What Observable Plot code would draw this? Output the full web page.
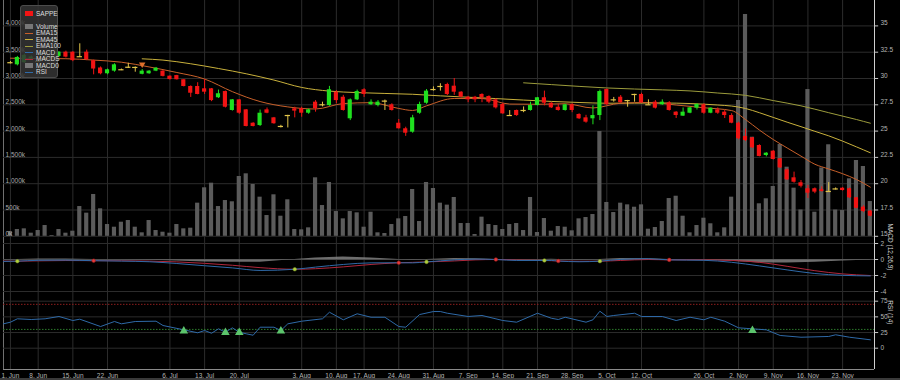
<!DOCTYPE html>
<html><head><meta charset="utf-8">
<script src="https://cdn.jsdelivr.net/npm/d3@7"></script>
<script src="https://cdn.jsdelivr.net/npm/@observablehq/plot@0.6"></script>
<style>
html,body{margin:0;padding:0;background:#000;}
#chart{position:relative;width:900px;height:380px;background:#000;overflow:hidden;font-family:"Liberation Sans",Arial,sans-serif;}
#chart svg{position:absolute;left:0;top:0;}
.legend{position:absolute;left:20px;top:5px;width:38px;height:73px;background:rgba(52,52,52,0.86);border:1px solid #4c4c4c;border-radius:3px;box-sizing:border-box;}
.li{position:absolute;left:15px;font-size:6.5px;color:#dedede;line-height:7px;white-space:nowrap;}
.ic{position:absolute;left:4px;width:8px;}
.strip{position:absolute;left:0;top:378px;width:900px;height:2px;background:#3a3a3a;}
</style></head><body><div id="chart"></div>
<script>
// ---- candles (SAPPE) ----
const open  = [31.5,31.3,31.5,31.85,31.62,31.9,32.05,32.1,32.5,32.5,32.07,32.5,31.7,31.0,30.45,30.7,30.83,31.07,31.05,30.4,30.45,30.7,30.7,30.22,30.28,29.88,29.24,29.24,29.02,29.02,28.17,28.76,26.96,27.97,27.02,25.75,25.53,27.02,26.26,25.44,26.48,27.12,27.12,26.7,27.75,27.5,27.43,28.7,28.22,26.17,27.97,28.93,27.5,27.43,27.85,27.5,25.75,25.22,24.9,26.7,27.65,28.95,29.24,29.43,29.27,28.7,28.22,28.22,28.48,28.29,27.97,27.53,26.48,26.96,26.96,26.96,27.43,28.17,27.65,27.27,26.96,27.5,26.58,26.26,26.17,26.48,28.95,27.97,28.22,27.9,28.48,28.48,27.5,27.75,27.5,27.69,26.8,26.42,26.7,27.18,27.5,26.7,27.02,26.8,26.48,25.75,24.49,24.36,23.63,22.68,23.09,22.37,21.32,20.56,20.09,19.52,19.52,19.42,19.26,19.5,19.57,19.52,18.66,17.77,17.39];
const high  = [31.62,32.1,32.3,32.15,31.72,32.15,32.15,32.55,32.6,32.55,33.3,32.7,31.75,31.1,30.9,31.4,30.9,31.45,31.1,30.85,30.75,31.05,30.75,30.25,30.3,29.9,29.3,29.6,29.9,29.05,28.9,28.8,28.0,28.0,27.05,25.8,27.0,27.2,26.3,25.55,26.5,27.27,27.27,27.1,27.9,27.75,29.25,28.85,28.4,28.06,28.9,29.03,27.97,27.9,27.95,27.6,26.1,25.37,26.5,27.75,28.95,29.2,29.5,29.55,30.0,28.75,28.3,28.3,28.55,28.35,28.05,27.65,26.95,27.0,27.3,27.75,28.2,28.8,27.7,27.55,27.55,27.6,26.65,26.5,27.4,28.9,29.0,28.2,28.38,27.92,28.5,28.6,27.97,27.9,27.97,27.8,26.85,27.2,27.25,27.6,27.6,27.2,27.2,26.95,26.65,25.85,25.2,24.4,23.7,22.95,23.15,22.4,21.4,21.1,20.3,19.84,19.6,19.7,20.1,19.6,19.62,19.58,18.7,17.9,17.45];
const low   = [31.38,31.2,31.45,31.75,31.52,31.85,31.95,32.05,31.95,31.6,32.0,31.7,30.35,30.35,30.35,30.6,30.75,30.95,30.6,30.35,30.4,30.65,30.15,29.85,29.85,29.2,28.2,28.45,28.48,27.8,28.1,27.2,26.9,26.6,25.4,25.4,25.44,26.65,25.65,25.3,25.3,26.26,26.32,26.6,26.8,27.3,27.35,27.6,26.9,26.0,27.9,28.2,27.45,27.3,26.96,26.9,25.2,24.5,24.8,26.6,27.55,28.8,28.8,28.38,28.4,28.15,27.7,27.7,27.7,27.6,27.1,26.6,26.45,26.4,26.75,26.9,27.4,27.4,27.15,26.9,26.9,26.75,26.1,25.75,25.6,26.0,27.45,27.75,27.65,27.27,27.75,27.65,27.48,27.1,27.45,26.9,26.2,26.4,26.65,27.0,26.6,26.65,26.6,26.2,25.7,24.17,24.0,23.35,22.55,22.55,22.25,21.45,20.3,20.05,19.6,18.6,19.05,19.2,19.2,19.4,19.3,18.6,17.6,17.25,16.85];
const close = [31.5,32.0,32.2,32.05,31.62,31.9,32.05,32.5,32.03,31.7,32.07,31.8,30.9,30.45,30.83,31.3,30.83,31.07,31.05,30.7,30.7,30.98,30.2,29.9,29.88,29.24,28.6,28.48,28.7,27.9,28.55,27.27,27.97,26.7,25.44,25.44,26.7,26.7,25.7,25.44,26.48,26.9,26.7,27.02,27.12,27.5,28.93,27.9,26.96,27.97,28.76,28.48,27.75,27.75,27.85,26.96,25.22,24.8,26.26,27.53,28.8,28.95,29.24,28.48,28.7,28.22,27.97,27.97,28.17,27.75,27.21,26.64,26.48,26.48,26.96,27.43,28.17,27.65,27.21,26.96,27.5,26.96,26.17,25.85,26.48,28.76,27.5,27.97,27.69,27.9,28.48,27.69,27.5,27.18,27.75,26.96,26.48,26.8,27.21,27.53,26.7,27.18,26.7,26.48,25.75,24.27,24.1,23.41,22.59,22.9,22.3,21.5,20.37,20.14,19.76,19.1,19.2,19.26,19.26,19.5,19.35,18.66,17.67,17.36,16.91];
// volume in thousands
const volume = [90,129,142,59,110,205,15,129,59,97,566,440,795,522,224,173,268,300,173,66,300,110,78,59,224,142,154,630,922,1010,566,680,656,1137,1188,985,744,395,789,382,694,129,123,161,1112,585,1023,471,332,471,446,173,458,66,53,224,332,376,890,281,1023,909,630,592,738,243,243,34,364,224,205,129,224,243,110,738,72,338,97,186,173,104,332,357,414,1992,643,452,630,598,553,598,135,167,281,718,762,382,66,205,344,238,66,161,744,2582,4217,1884,618,713,947,1745,1314,915,500,2790,458,1300,1740,500,490,1093,1441,1327,661];

// ---- moving averages (read at sample positions) ----
const ema15Idx = [0,4,8,12,16,20,24,28,32,36,40,44,48,52,56,58,60,64,68,72,76,80,84,88,92,96,100,104,106,108,110,112,114,116,118,120,122,124];
const ema15    = [31.93,31.9,31.88,31.75,31.55,31.1,30.57,29.95,28.75,27.81,27.3,27.1,27.62,27.7,27.15,26.96,27.4,28.1,28.1,27.57,27.55,27.6,27.2,27.65,27.72,27.48,27.22,26.95,26.1,25.1,24.2,23.4,22.62,21.85,21.4,20.95,20.4,19.67];
const ema45Idx = [19,22,26,30,34,38,42,46,50,54,58,62,66,70,74,78,82,86,90,94,98,102,104,106,108,110,112,114,116,118,120,122,124];
const ema45    = [31.87,31.75,31.4,30.95,30.45,29.85,29.15,28.8,28.66,28.58,28.5,28.35,28.22,28.09,27.95,27.82,27.72,27.65,27.66,27.67,27.62,27.48,27.38,27.15,26.75,26.3,25.85,25.42,24.98,24.55,24.05,23.5,22.94];
const ema100Idx = [74,78,82,86,90,94,98,102,106,110,114,118,122,124];
const ema100    = [29.59,29.42,29.25,29.1,29.0,28.92,28.82,28.62,28.4,27.9,27.4,26.75,26.1,25.75];
const flagIdx = [19];
const flagVal = [31.35];

// ---- MACD (12,26,9) ----
const macdIdx    = [-1,1,4,8,12,16,20,24,28,32,36,41,44,48,52,56,58,60,64,67,70,73,77,78,79,82,85,88,92,95,100,104,108,112,116,120,124];
const macdLine   = [-0.24,-0.21,-0.1,-0.08,-0.15,-0.2,-0.28,-0.5,-0.78,-1.05,-1.37,-1.22,-0.95,-0.62,-0.42,-0.41,-0.42,-0.3,-0.05,0.05,0,-0.12,-0.12,-0.12,-0.19,-0.28,-0.21,0.02,0.1,-0.05,-0.1,-0.35,-0.8,-1.3,-1.75,-1.98,-2.05];
const signalLine = [-0.2,-0.21,-0.17,-0.13,-0.15,-0.16,-0.2,-0.3,-0.48,-0.72,-1.02,-1.22,-1.15,-0.92,-0.62,-0.41,-0.36,-0.3,-0.18,-0.05,0,-0.06,-0.12,-0.15,-0.19,-0.22,-0.21,-0.12,0,-0.05,-0.05,-0.12,-0.35,-0.85,-1.4,-1.8,-2.0];
const histogram  = [-0.04,0,0.07,0.05,0,-0.04,-0.08,-0.2,-0.3,-0.33,-0.35,0,0.2,0.3,0.2,0,-0.06,0,0.13,0.1,0,-0.06,0,0.03,0,-0.06,0,0.14,0.1,0,-0.05,-0.23,-0.45,-0.45,-0.35,-0.18,-0.05];
const crossIdx  = [1,12,41,56,60,70,77,79,85,95];
const crossVal  = [-0.21,-0.15,-1.22,-0.41,-0.3,0,-0.12,-0.19,-0.21,-0.05];
const crossType = ["up","down","up","down","up","down","up","down","up","down"];

// ---- RSI (14) ----
const rsiIdx = [-1,0,1,3,5,7,9,10,13,15,16,18,21,22,25,27,28,29,30,31,32,33,34,35,36,38,39,40,42,45,46,48,50,52,54,56,57,59,61,62,63,66,68,71,73,76,78,79,80,83,84,85,86,87,90,91,94,96,98,100,101,103,105,107,109,111,114,118,119,121,124];
const rsiVal = [38.9,41.5,46.9,45.8,46.9,50.6,44.2,46.3,34.6,42.6,38.9,42.6,43.1,36.2,29.3,24.6,28.2,23.9,30.9,25.5,32.5,25.5,23,20.7,33.5,33.5,28.2,38.9,43.1,46.9,57.4,45.3,54.9,49.4,49.4,34.6,33.5,53.7,58.5,58.5,55.8,50.6,52.2,44.2,41.5,55.8,47.8,45.8,49.4,41.5,45.3,59,50.6,52.2,55.8,50.6,50.6,44.2,49.4,45.3,49.4,43.1,32.5,30.9,29.3,20.3,17.5,18.7,21.4,17.5,13.4];
const oversoldIdx = [25,31,33,39,107];
const oversoldVal = [27.3,25,25,27.3,28.2];

// ---- axes ----
const tickLabels = ["1. Jun","8. Jun","15. Jun","22. Jun","6. Jul","13. Jul","20. Jul","3. Aug","10. Aug","17. Aug","24. Aug","31. Aug","7. Sep","14. Sep","21. Sep","28. Sep","5. Oct","12. Oct","26. Oct","2. Nov","9. Nov","16. Nov","23. Nov"];
const tickIndex  = [0,4,9,14,23,28,33,42,47,51,56,61,66,71,76,81,86,91,100,105,110,115,120];
const priceTicks  = [15,17.5,20,22.5,25,27.5,30,32.5,35];
const volumeTicks = [0,500,1000,1500,2000,2500,3000,3500,4000];
const macdTicks   = [2,0,-2,-4];
const rsiTicks    = [75,50,25,0];

// ---- build ----
const candles = open.map((o, i) => ({i, o, h: high[i], l: low[i], c: close[i], v: volume[i]}));
const macdData = macdIdx.map((i, k) => ({i, m: macdLine[k], s: signalLine[k], h: histogram[k]}));
const crossData = crossIdx.map((i, k) => ({i, v: crossVal[k], t: crossType[k]}));
const rsiData = rsiIdx.map((i, k) => ({i, v: rsiVal[k]}));
const osData = oversoldIdx.map((i, k) => ({i, v: oversoldVal[k]}));
const line = (idx, vals) => idx.map((i, k) => ({i, v: vals[k]}));

const GREEN = "#1fe01f", RED = "#f21414", YEL = "#e2c54a";
const C15 = "#c8602a", C45 = "#c9b13c", C100 = "#9c9c3c";
const BLUE = "#2f6aa8", SIG = "#b0283c", GRID = "#2c2c2c", LBL = "#b4b4b4";
const XMAX = 124.6, BW = 0.3;
const FONT = "'Liberation Sans', Arial, sans-serif";

function layer(y, marks) {
  return Plot.plot({
    width: 900, height: 380, marginLeft: 3, marginRight: 26, marginTop: 0, marginBottom: 11,
    x: {domain: [-1, XMAX], axis: null},
    y: {...y, axis: null},
    style: {background: "transparent", fontFamily: FONT, overflow: "visible"},
    marks
  });
}
const rightLabels = (ticks, fmt, dy) => [
  Plot.ruleY(ticks, {x1: XMAX, x2: XMAX + 0.6, stroke: "#c8c8c8"}),
  Plot.text(ticks, {y: d => d, text: fmt, frameAnchor: "right", dx: 6, dy, textAnchor: "start", fill: LBL, fontSize: 6.5})
];

const chart = document.getElementById("chart");

// base: vertical grid, frame, x labels, panel titles
chart.appendChild(layer({domain: [0, 380], range: [0, 380]}, [
  Plot.ruleX(tickIndex, {y1: 0, y2: 369, stroke: GRID}),
  Plot.ruleX([-1], {y1: 0, y2: 369, stroke: "#707070"}),
  Plot.ruleX([XMAX], {y1: 0, y2: 369, stroke: "#cfcfcf"}),
  Plot.ruleY([369], {stroke: "#8a8a8a"}),
  Plot.text(tickIndex, {x: d => d, y: () => 375, text: (d, k) => tickLabels[k], fill: LBL, fontSize: 6.5}),
  Plot.text(["MACD (12,26,9)"], {frameAnchor: "right", dx: 16, y: () => 270, rotate: 90, fill: "#cfcfcf", fontSize: 6.5}),
  Plot.text(["RSI (14)"], {frameAnchor: "right", dx: 16, y: () => 324, rotate: 90, fill: "#cfcfcf", fontSize: 6.5})
]));

// volume layer
chart.appendChild(layer({domain: [0, 4483], range: [235.8, 0]}, [
  Plot.ruleY(volumeTicks, {stroke: GRID}),
  Plot.rect(candles, {x1: d => d.i - BW, x2: d => d.i + BW, y1: () => 0, y2: "v", fill: "#5b5b5b"}),
  Plot.text(volumeTicks, {y: d => d, text: d => d3.format(",")(d) + "k", frameAnchor: "left", dx: 2, dy: -2.5, textAnchor: "start", fill: "#a8a8a8", fontSize: 6.5})
]));

// price layer
chart.appendChild(layer({domain: [15, 37.4144], range: [235.8, 0]}, [
  ...rightLabels(priceTicks, d => String(d), -2.5),
  Plot.line(line(ema100Idx, ema100), {x: "i", y: "v", stroke: C100, strokeWidth: 1, curve: "monotone-x"}),
  Plot.line(line(ema45Idx, ema45), {x: "i", y: "v", stroke: C45, strokeWidth: 1, curve: "monotone-x"}),
  Plot.line(line(ema15Idx, ema15), {x: "i", y: "v", stroke: C15, strokeWidth: 1, curve: "monotone-x"}),
  Plot.ruleX(candles, {filter: d => d.c > d.o, x: "i", y1: "l", y2: "h", stroke: GREEN}),
  Plot.ruleX(candles, {filter: d => d.c < d.o, x: "i", y1: "l", y2: "h", stroke: RED}),
  Plot.ruleX(candles, {filter: d => d.c === d.o, x: "i", y1: "l", y2: "h", stroke: YEL}),
  Plot.rect(candles, {filter: d => d.c > d.o, x1: d => d.i - BW, x2: d => d.i + BW, y1: "o", y2: "c", fill: GREEN}),
  Plot.rect(candles, {filter: d => d.c < d.o, x1: d => d.i - BW, x2: d => d.i + BW, y1: "o", y2: "c", fill: RED}),
  Plot.ruleY(candles, {filter: d => d.c === d.o, y: "c", x1: d => d.i - 0.38, x2: d => d.i + 0.38, stroke: YEL, strokeWidth: 1.2}),
  Plot.dot(flagIdx.map((i, k) => ({i, v: flagVal[k]})), {x: "i", y: "v", symbol: "triangle", rotate: 180, r: 2.4, fill: "#e0702c"})
]));

// MACD layer
chart.appendChild(layer({domain: [-4, 2], range: [291, 243]}, [
  Plot.ruleY(macdTicks, {stroke: GRID}),
  Plot.area(macdData, {x1: "i", y1: () => 0, y2: "h", fill: "#8a8a8a", fillOpacity: 0.8}),
  Plot.ruleY([0], {stroke: "#555", strokeWidth: 0.8}),
  Plot.line(macdData, {x: "i", y: "s", stroke: SIG, strokeWidth: 1, curve: "monotone-x"}),
  Plot.line(macdData, {x: "i", y: "m", stroke: BLUE, strokeWidth: 1, curve: "monotone-x"}),
  Plot.dot(crossData, {filter: d => d.t === "up", x: "i", y: "v", r: 1.8, fill: "#b3cf3e", stroke: "#7d9a2a", strokeWidth: 0.5}),
  Plot.dot(crossData, {filter: d => d.t === "down", x: "i", y: "v", r: 1.8, fill: "#e63a3a", stroke: "#a01c1c", strokeWidth: 0.6}),
  ...rightLabels(macdTicks, d => String(d), 0)
]));

// RSI layer
chart.appendChild(layer({domain: [0, 75], range: [347.7, 300.7]}, [
  Plot.ruleY(rsiTicks, {stroke: GRID}),
  Plot.ruleY([70], {stroke: "#8e1e1e", strokeDasharray: "1.5,1.5"}),
  Plot.ruleY([30], {stroke: "#2c7c2c", strokeDasharray: "1.5,1.5"}),
  Plot.line(rsiData, {x: "i", y: "v", stroke: BLUE, strokeWidth: 1}),
  Plot.dot(osData, {x: "i", y: "v", symbol: "triangle", r: 3.2, fill: "#5cc46c"}),
  ...rightLabels(rsiTicks, d => String(d), 0)
]));

// bottom strip
const strip = document.createElement("div"); strip.className = "strip"; chart.appendChild(strip);

// legend
const legendItems = [
  {name: "SAPPE", kind: "rect", color: RED, row: 0},
  {name: "Volume", kind: "rect", color: "#777", row: 2},
  {name: "EMA15", kind: "line", color: C15, row: 3},
  {name: "EMA45", kind: "line", color: C45, row: 4},
  {name: "EMA100", kind: "line", color: C100, row: 5},
  {name: "MACD", kind: "line", color: BLUE, row: 6},
  {name: "MACDS", kind: "line", color: SIG, row: 7},
  {name: "MACD0", kind: "rect", color: "#777", row: 8},
  {name: "RSI", kind: "line", color: BLUE, row: 9}
];
const lg = document.createElement("div"); lg.className = "legend";
legendItems.forEach(it => {
  const yc = 7.8 + it.row * 6.48;
  const ic = document.createElement("div"); ic.className = "ic";
  if (it.kind === "rect") { ic.style.top = (yc - 2.5) + "px"; ic.style.height = "5px"; ic.style.background = it.color; }
  else { ic.style.top = (yc - 0.5) + "px"; ic.style.height = "1px"; ic.style.background = it.color; }
  lg.appendChild(ic);
  const t = document.createElement("div"); t.className = "li"; t.textContent = it.name; t.style.top = (yc - 3.8) + "px";
  lg.appendChild(t);
});
chart.appendChild(lg);
</script></body></html>
